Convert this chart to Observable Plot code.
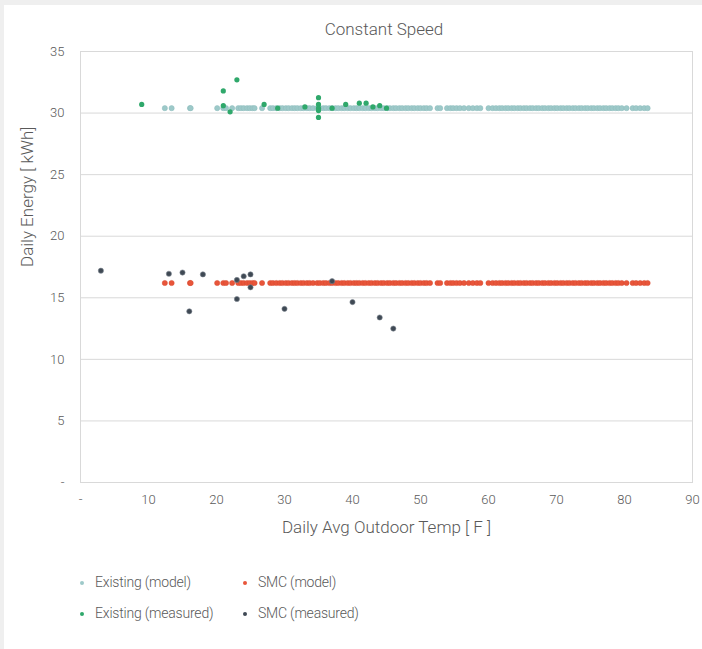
<!DOCTYPE html>
<html>
<head>
<meta charset="utf-8">
<script src="https://cdn.jsdelivr.net/npm/d3@7"></script>
<script src="https://cdn.jsdelivr.net/npm/@observablehq/plot@0.6"></script>
<style>
  html, body { margin: 0; padding: 0; background: #efefef; }
  body { width: 702px; height: 649px; position: relative; overflow: hidden;
         font-family: "Roboto", "DejaVu Sans Condensed", sans-serif; font-weight: 300; color: #595959; }
  #card { position: absolute; left: 4px; top: 5px; width: 698px; height: 644px; background: #fff; }
  #chart { position: absolute; left: 0; top: 0; }
  #title { position: absolute; top: 19px; left: 0; width: 768px; text-align: center; font-size: 17px; color: #595959; }
  .leg { position: absolute; font-size: 14px; color: #595959; white-space: nowrap; letter-spacing: -0.2px; }
  .sw { position: absolute; width: 4px; height: 4px; border-radius: 50%; }
  #chart svg text { font-weight: 300; }
</style>
</head>
<body>
<div id="card"></div>
<div id="chart"></div>
<div id="title">Constant Speed</div>
<div id="legend"></div>
<script>
// ---- data ----
const modelTemps = [12.4, 13.4, 16.1, 16.2, 20.1, 21.0, 21.4, 22.3, 23.2, 23.6, 24.0, 24.5, 24.9, 25.3, 25.6, 26.7,
  27.9, 28.3, 28.8, 29.3, 29.7, 30.2, 30.6, 31.1, 31.5, 31.9, 32.4, 32.8, 33.3, 33.7, 34.2, 34.8, 35.2, 35.7, 36.1,
  36.6, 37.0, 37.5, 37.9, 38.4, 38.8, 39.3, 39.7, 40.2, 40.6, 41.0, 41.5, 41.9, 42.4, 42.8, 43.3, 43.7, 44.2, 44.6,
  45.1, 45.5, 46.0, 46.4, 46.9, 47.3, 47.8, 48.2, 48.7, 49.1, 49.6, 50.0, 50.5, 50.9, 51.4, 52.5, 52.9, 53.9, 54.4,
  54.8, 55.3, 55.8, 56.4, 57.1, 57.7, 58.3, 58.8, 60.0, 60.6, 61.1, 61.6, 62.0, 62.5, 62.9, 63.4, 63.8, 64.3, 64.7,
  65.2, 65.6, 66.1, 66.5, 67.0, 67.4, 67.9, 68.3, 68.8, 69.2, 69.7, 70.1, 70.6, 71.0, 71.5, 71.9, 72.4, 72.8, 73.3,
  73.7, 74.2, 74.6, 75.1, 75.5, 76.0, 76.4, 76.9, 77.3, 77.8, 78.2, 78.7, 79.1, 79.6, 80.3, 81.2, 81.7, 82.3, 82.9, 83.4];
const existingModelEnergy = 30.4;
const smcModelEnergy = 16.2;

const existingMeasuredTemp   = [9, 21, 23, 21, 22, 27, 29, 33, 35, 35, 35, 35, 35, 37, 39, 41, 42, 43, 44, 45];
const existingMeasuredEnergy = [30.7, 31.8, 32.7, 30.6, 30.1, 30.7, 30.4, 30.5, 31.25, 30.7, 30.4, 30.2, 29.65, 30.4, 30.7, 30.8, 30.8, 30.5, 30.6, 30.4];

const smcMeasuredTemp   = [3, 13, 15, 16, 18, 23, 23, 24, 25, 25, 30, 37, 40, 44, 46];
const smcMeasuredEnergy = [17.2, 16.95, 17.05, 13.9, 16.9, 16.45, 14.9, 16.75, 16.9, 15.85, 14.1, 16.35, 14.65, 13.4, 12.5];

const xTicks = [0, 10, 20, 30, 40, 50, 60, 70, 80, 90];
const yTicks = [0, 5, 10, 15, 20, 25, 30, 35];

const seriesNames = ["Existing (model)", "Existing (measured)", "SMC (model)", "SMC (measured)"];
const seriesColors = ["#9dc9c9", "#2fa86b", "#e8553a", "#3f4954"];

// ---- tables ----
const existingModel = modelTemps.map(t => ({t, e: existingModelEnergy}));
const smcModel = modelTemps.map(t => ({t, e: smcModelEnergy}));
const existingMeasured = existingMeasuredTemp.map((t, i) => ({t, e: existingMeasuredEnergy[i]}));
const smcMeasured = smcMeasuredTemp.map((t, i) => ({t, e: smcMeasuredEnergy[i]}));

const fmt = d => d === 0 ? "-" : String(d);

const chart = Plot.plot({
  width: 702,
  height: 560,
  marginLeft: 80,
  marginRight: 10,
  marginTop: 51,
  marginBottom: 78,
  style: { background: "transparent", fontFamily: "Roboto, 'DejaVu Sans Condensed', sans-serif", fontSize: "13px", color: "#595959" },
  x: { domain: [0, 90], ticks: xTicks, tickFormat: fmt, label: null },
  y: { domain: [0, 35], ticks: yTicks, tickFormat: fmt, label: null },
  marks: [
    Plot.gridY(yTicks, { stroke: "#d9d9d9", strokeOpacity: 1 }),
    Plot.frame({ stroke: "#d9d9d9" }),
    Plot.axisX(xTicks, { tickSize: 0, tickPadding: 12, tickFormat: fmt, fontSize: 13, fill: "#595959" }),
    Plot.axisY(yTicks, { tickSize: 0, tickPadding: 16, tickFormat: fmt, fontSize: 13, fill: "#595959" }),
    Plot.text(["Daily Avg Outdoor Temp [ F ]"], { frameAnchor: "bottom", dy: 50, fontSize: 17, fill: "#595959" }),
    Plot.text(["Daily Energy [ kWh]"], { frameAnchor: "left", dx: -53, rotate: -90, fontSize: 17, fill: "#595959" }),
    Plot.dot(existingModel, { x: "t", y: "e", r: 2.6, fill: seriesColors[0], stroke: "#8fbcbc", strokeWidth: 0.5 }),
    Plot.dot(smcModel, { x: "t", y: "e", r: 2.6, fill: seriesColors[2], stroke: "#d94a30", strokeWidth: 0.5 }),
    Plot.dot(existingMeasured, { x: "t", y: "e", r: 2.6, fill: seriesColors[1] }),
    Plot.dot(smcMeasured, { x: "t", y: "e", r: 2.6, fill: seriesColors[3], stroke: "#7d8690", strokeWidth: 0.6 })
  ]
});
document.getElementById("chart").appendChild(chart);

// ---- legend ----
const legend = document.getElementById("legend");
const legPos = [[82, 583], [82, 614], [245, 583], [245, 614]];
seriesNames.forEach((name, i) => {
  const [x, y] = legPos[i];
  const sw = document.createElement("div");
  sw.className = "sw";
  sw.style.left = (x - 2) + "px";
  sw.style.top = (y - 2) + "px";
  sw.style.background = seriesColors[i];
  legend.appendChild(sw);
  const lb = document.createElement("div");
  lb.className = "leg";
  lb.style.left = (x + 13) + "px";
  lb.style.top = (y - 9) + "px";
  lb.textContent = name;
  legend.appendChild(lb);
});
</script>
</body>
</html>
